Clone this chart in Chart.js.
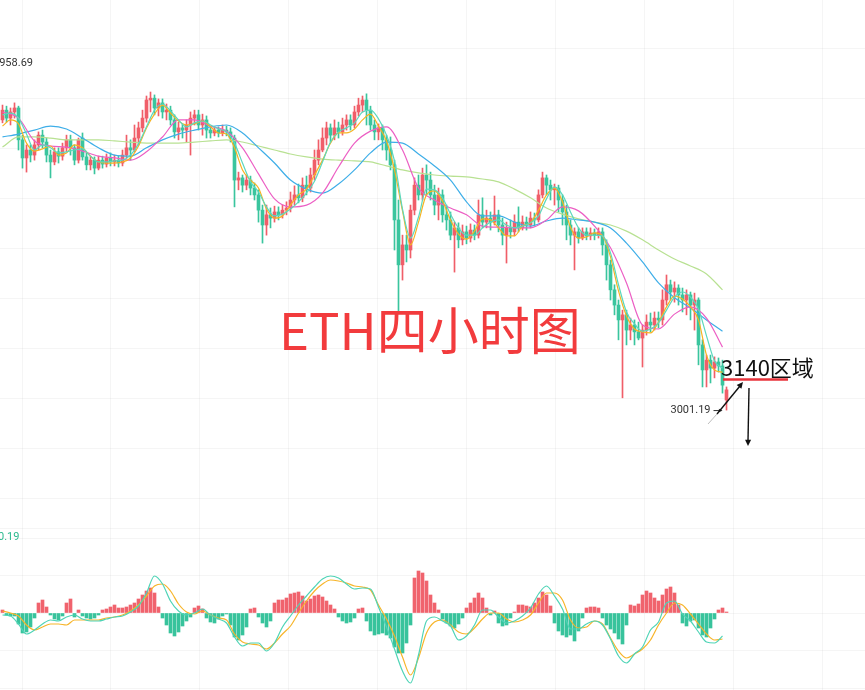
<!DOCTYPE html>
<html>
<head>
<meta charset="utf-8">
<script src="https://cdn.jsdelivr.net/npm/chart.js@4.4.1/dist/chart.umd.min.js"></script>
<style>
  html, body { margin: 0; padding: 0; background: #fff; }
  #wrap { position: relative; width: 865px; height: 690px; overflow: hidden; }
  #main { position: absolute; left: 0; top: 0; }
  #macd { position: absolute; left: 0; top: 528px; }
</style>
</head>
<body>
<div id="wrap">
  <canvas id="main" width="865" height="528"></canvas>
  <canvas id="macd" width="865" height="162"></canvas>
</div>
<script>
// ETH 4h candles (oldest -> newest)
const opens = [
  3802,3829,3807,3824,3835,3747,3697,3719,3705,3733, 3760,3741,3705,3686,3714,3702,3725,3747,3725,3691,
  3752,3700,3678,3691,3669,3691,3680,3697,3686,3691, 3683,3705,3725,3719,3752,3780,3807,3857,3862,3835,
  3849,3824,3829,3802,3769,3780,3774,3788,3807,3816, 3788,3802,3774,3766,3774,3766,3774,3769,3752,3636,
  3642,3622,3636,3614,3595,3553,3512,3540,3531,3548, 3540,3553,3559,3581,3595,3587,3622,3614,3650,3691,
  3719,3752,3780,3760,3780,3769,3788,3802,3788,3824, 3843,3857,3829,3788,3769,3780,3747,3719,3678,3526,
  3402,3457,3443,3553,3622,3595,3650,3636,3595,3567, 3595,3540,3526,3484,3504,3471,3493,3476,3498,3484,
  3540,3520,3531,3520,3540,3512,3484,3504,3493,3520, 3504,3520,3512,3531,3526,3595,3642,3622,3609,3614,
  3581,3548,3512,3484,3493,3476,3493,3482,3490,3484, 3493,3457,3402,3333,3291,3250,3264,3222,3236,3217,
  3200,3222,3244,3236,3255,3250,3305,3347,3327,3338, 3319,3305,3319,3291,3305,3181,3112,3139,3117,3134,
  3123,3029
];
const highs = [
  3843,3840,3835,3849,3840,3760,3733,3733,3747,3769, 3774,3752,3719,3725,3725,3738,3760,3760,3733,3752,
  3766,3711,3702,3700,3702,3702,3708,3711,3705,3702, 3719,3760,3747,3788,3796,3829,3868,3879,3871,3860,
  3860,3846,3840,3816,3796,3791,3802,3824,3829,3829, 3818,3813,3785,3783,3783,3788,3785,3780,3760,3658,
  3650,3650,3647,3628,3609,3567,3567,3559,3564,3562, 3567,3576,3603,3620,3625,3642,3647,3669,3719,3747,
  3780,3796,3791,3802,3796,3807,3816,3816,3840,3862, 3868,3874,3840,3802,3791,3788,3760,3755,3691,3581,
  3484,3484,3567,3642,3650,3669,3678,3658,3622,3614, 3609,3567,3548,3520,3518,3512,3509,3515,3512,3581,
  3587,3553,3548,3592,3553,3531,3520,3526,3540,3562, 3537,3534,3548,3545,3609,3658,3650,3636,3625,3622,
  3595,3567,3526,3504,3504,3504,3504,3504,3501,3504, 3504,3471,3415,3347,3305,3277,3277,3255,3250,3244,
  3236,3264,3269,3272,3272,3333,3374,3360,3355,3347, 3338,3333,3327,3324,3311,3195,3153,3153,3148,3145,
  3139,3065
];
const lows = [
  3794,3796,3788,3807,3719,3669,3658,3686,3691,3719, 3725,3686,3642,3678,3683,3691,3714,3705,3678,3683,
  3691,3664,3664,3653,3664,3669,3672,3675,3675,3672, 3675,3697,3691,3714,3733,3769,3796,3824,3816,3813,
  3807,3802,3788,3752,3747,3752,3741,3705,3788,3774, 3760,3752,3752,3758,3755,3758,3758,3741,3562,3609,
  3603,3609,3595,3581,3520,3462,3484,3504,3520,3526, 3531,3540,3548,3567,3573,3576,3595,3603,3636,3678,
  3714,3733,3741,3747,3752,3760,3774,3774,3780,3813, 3824,3788,3774,3747,3747,3719,3691,3664,3443,3272,
  3360,3410,3421,3540,3581,3581,3595,3581,3540,3526, 3520,3498,3471,3382,3449,3457,3460,3465,3471,3476,
  3504,3504,3498,3512,3493,3457,3407,3476,3482,3493, 3498,3498,3504,3509,3520,3587,3595,3581,3567,3548,
  3512,3471,3457,3388,3462,3471,3471,3471,3471,3476, 3429,3360,3305,3264,3195,3035,3181,3195,3181,3195,
  3120,3208,3217,3222,3228,3236,3291,3305,3299,3291, 3272,3264,3250,3222,3126,3065,3065,3076,3090,3106,
  3048,3001.19
];
const closes = [
  3829,3807,3824,3835,3747,3697,3719,3705,3733,3760, 3741,3705,3686,3714,3702,3725,3747,3725,3691,3747,
  3700,3678,3691,3669,3691,3680,3697,3686,3691,3683, 3705,3725,3719,3752,3780,3807,3857,3862,3835,3849,
  3824,3829,3802,3769,3780,3774,3788,3807,3816,3788, 3802,3774,3766,3774,3766,3774,3769,3752,3636,3642,
  3622,3636,3614,3595,3553,3512,3540,3531,3548,3540, 3553,3559,3581,3595,3587,3622,3614,3650,3691,3719,
  3752,3780,3760,3780,3769,3788,3802,3788,3824,3843, 3857,3829,3788,3769,3780,3747,3719,3678,3526,3402,
  3457,3443,3553,3622,3595,3650,3636,3595,3567,3595, 3540,3526,3484,3504,3471,3493,3476,3498,3484,3540,
  3520,3531,3520,3540,3512,3484,3504,3493,3520,3504, 3520,3512,3531,3526,3595,3642,3622,3609,3614,3581,
  3548,3512,3484,3493,3476,3493,3482,3490,3484,3493, 3457,3402,3333,3291,3250,3264,3222,3236,3217,3200,
  3222,3244,3236,3255,3250,3305,3347,3327,3338,3319, 3305,3319,3291,3305,3181,3112,3139,3117,3134,3123,
  3070,3057
];

// moving averages, fast ones sampled every 2 candles, slow ones every 4
const FINE = 2, COARSE = 4;
const ma5 = [
  3816,3821,3807,3763,3719,3733,3725,3711,3714,3719, 3722,3702,3686,3686,3689,3691,3705,3736,3783,3829,
  3846,3827,3802,3783,3794,3799,3788,3777,3769,3738, 3683,3631,3603,3562,3537,3542,3556,3576,3600,3633,
  3686,3741,3769,3780,3794,3824,3829,3805,3760,3689, 3556,3476,3534,3611,3609,3587,3542,3504,3484,3484,
  3504,3520,3526,3512,3504,3509,3518,3537,3584,3617, 3595,3548,3504,3484,3484,3482,3435,3347,3272,3239,
  3219,3225,3242,3277,3313,3327,3313,3280,3206,3137, 3117
];
const ma10 = [
  3785,3802,3791,3738,3716,3722,3730,3705,3711,3733, 3725,3702,3686,3683,3683,3686,3697,3730,3780,3818,
  3843,3821,3799,3788,3791,3799,3783,3766,3763,3725, 3664,3636,3614,3556,3531,3537,3567,3595,3611,3650,
  3691,3738,3766,3766,3777,3802,3818,3785,3744,3664, 3551,3457,3520,3595,3606,3578,3526,3487,3473,3495,
  3529,3526,3504,3482,3482,3509,3518,3553,3595,3614, 3576,3506,3476,3479,3490,3482,3424,3330,3261,3225,
  3217,3214,3244,3286,3316,3308,3286,3250,3153,3112, 3106
];
const ma20 = [
  3824,3807,3744,3730,3727,3716,3702,3697,3691,3714, 3755,3802,3802,3785,3771,3725,3653,3584,3562,3567,
  3600,3672,3738,3771,3783,3719,3614,3581,3559,3540, 3509,3506,3504,3504,3526,3562,3551,3509,3449,3352,
  3236,3225,3266,3286,3255,3175
];
const ma60 = [
  3755,3763,3774,3785,3777,3752,3725,3705,3702,3725, 3747,3763,3774,3783,3788,3766,3725,3683,3636,3611,
  3600,3625,3664,3711,3741,3738,3708,3675,3636,3576, 3537,3537,3520,3509,3523,3531,3526,3520,3504,3462,
  3410,3352,3311,3283,3250,3219
];
const ma120 = [
  3727,3755,3755,3752,3747,3747,3747,3744,3741,3738, 3738,3738,3741,3744,3747,3741,3730,3719,3708,3700,
  3694,3691,3689,3686,3675,3664,3656,3650,3647,3645, 3639,3631,3611,3587,3559,3542,3529,3520,3512,3495,
  3471,3443,3418,3399,3377,3333
];

// MACD pane
const macdHist = [
  3,-2,-3,-3,-11,-20,-19,-14,-5,10, 13,6,-2,-6,-7,-3,10,14,-4,3,
  -3,-5,-6,-5,-2,3,4,6,8,5, 5,6,8,10,14,18,22,25,20,6,
  -5,-12,-20,-23,-19,-13,-8,-4,5,7, 4,-5,-9,-10,-6,-3,-1,-12,-24,-27,
  -22,-14,4,5,-4,-10,-14,-8,10,13, 13,15,19,20,21,17,12,14,17,18,
  16,12,8,4,-4,-8,-10,-9,-5,4, 5,-8,-18,-22,-21,-20,-22,-25,-34,-40,
  -40,-30,-12,35,42,40,32,18,10,3, -6,-10,-13,-15,-11,-5,5,10,15,20,
  15,5,-2,2,-10,-13,-12,-5,1,8, 8,7,6,10,15,21,18,7,-10,-18,
  -22,-24,-22,-28,-18,-5,5,6,6,5, -5,-12,-16,-20,-26,-31,-12,8,7,9,
  18,22,20,15,12,18,24,26,20,8, -10,-13,-8,-7,-15,-22,-24,-15,-6,3,
  5,1
];
const dif = [
  -2,-3,-11,-21,-17,-11,-7,-8,-4,-2, -6,-8,-8,-6,-4,-3,1,7,20,37,
  29,12,2,-2,0,4,-2,-6,-10,-24, -33,-30,-30,-38,-30,-14,-3,8,17,26,
  34,37,35,29,24,25,24,6,-14,-36, -58,-70,-42,-8,-4,-8,-13,-27,-23,-12,
  3,3,-4,-10,-8,-3,5,19,27,17, 4,-16,-16,-11,-8,-12,-26,-43,-50,-41,
  -34,-17,-9,10,12,-1,-8,-19,-29,-30, -23
];
const dea = [
  2,0,-3,-12,-17,-14,-11,-11,-12,-7, -7,-7,-7,-5,-4,-2,2,8,17,27,
  29,22,9,1,-1,2,-2,-5,-7,-21, -29,-31,-32,-36,-30,-21,-13,0,12,22,
  29,33,32,30,27,26,23,8,-6,-23, -44,-62,-45,-20,-9,-7,-12,-19,-21,-15,
  -6,0,0,-6,-9,-7,-2,10,20,20, 13,-7,-15,-14,-8,-11,-25,-38,-45,-41,
  -36,-27,-12,0,10,8,-1,-11,-21,-27, -26
];

const HIGH_PRICE = 3958.69;   // high of a candle left of the visible window
const MACD_TAG = "0.19";
const TITLE = "ETH四小时图";
const ZONE = "3140区域";

// layout of the crop
const X_MIN = -0.625, X_MAX = 215.625;
const Y_MIN = 2675.7, Y_MAX = 4133;
const X_GRID_START = 4.875, X_GRID_STEP = 22.225, X_GRID_N = 10;
const Y_GRID_TOP = 3997.8, Y_GRID_STEP = 138, Y_GRID_N = 10;
const M_MIN = -77, M_MAX = 85;
const macdGrid = [84.6, 75, 37.5, 0, -37.5, -75];

const RED = "#f05e69", GREEN = "#3ac59e";
const GRID = "rgba(0,0,0,0.038)";

const pts = (arr, step) => arr.map((v, k) => ({ x: k * step, y: v }));
const candleColors = closes.map((c, i) => c >= opens[i] ? RED : GREEN);
const xGrid = Array.from({ length: X_GRID_N }, (_, k) => X_GRID_START + k * X_GRID_STEP);
const yGrid = Array.from({ length: Y_GRID_N }, (_, k) => Y_GRID_TOP - k * Y_GRID_STEP);

function hiddenAxis(min, max, tickVals) {
  return {
    type: "linear", min, max, offset: false,
    grid: { color: GRID, lineWidth: 1, drawTicks: false, offset: false },
    border: { display: false },
    ticks: { display: false },
    afterBuildTicks: s => { s.ticks = tickVals.map(v => ({ value: v })); }
  };
}

function maLine(label, data, step, color) {
  return {
    type: "line", label, data: pts(data, step), borderColor: color, borderWidth: 1.2,
    pointRadius: 0, fill: false, cubicInterpolationMode: "monotone", order: 0
  };
}

function arrowHead(ctx, x1, y1, x2, y2, size) {
  const a = Math.atan2(y2 - y1, x2 - x1);
  ctx.beginPath();
  ctx.moveTo(x2, y2);
  ctx.lineTo(x2 - size * Math.cos(a - 0.45), y2 - size * Math.sin(a - 0.45));
  ctx.lineTo(x2 - size * Math.cos(a + 0.45), y2 - size * Math.sin(a + 0.45));
  ctx.closePath();
  ctx.fill();
}

// price tags + hand-drawn notes
const mainNotes = {
  id: "mainNotes",
  afterDraw(chart) {
    const { ctx, scales: { x, y } } = chart;
    ctx.save();
    ctx.font = '11px Roboto, "Liberation Sans", sans-serif';
    ctx.fillStyle = "#333";
    ctx.textBaseline = "middle";
    ctx.textAlign = "left";
    ctx.fillText(HIGH_PRICE.toFixed(2), -7, y.getPixelForValue(HIGH_PRICE));

    const lowVal = Math.min(...lows);
    const li = lows.indexOf(lowVal);
    const lx = x.getPixelForValue(li), ly = y.getPixelForValue(lowVal);
    ctx.textAlign = "right";
    ctx.fillText(lowVal.toFixed(2), lx - 16, ly);
    ctx.strokeStyle = "#333";
    ctx.fillStyle = "#333";
    ctx.lineWidth = 1;
    ctx.beginPath(); ctx.moveTo(lx - 13, ly + 0.5); ctx.lineTo(lx - 5, ly + 0.5); ctx.stroke();
    arrowHead(ctx, lx - 13, ly + 0.5, lx - 4, ly + 0.5, 4);

    // big title
    ctx.font = '51px "Noto Sans CJK SC", sans-serif';
    ctx.fillStyle = "#f23b3d";
    ctx.textAlign = "left";
    ctx.textBaseline = "alphabetic";
    ctx.fillText(TITLE, 279, 350);

    // 3140 zone note
    ctx.font = '22px "Noto Sans CJK SC", sans-serif';
    ctx.fillStyle = "#111";
    ctx.fillText(ZONE, 721, 376);
    ctx.strokeStyle = "#e8333b";
    ctx.lineWidth = 2.5;
    ctx.beginPath(); ctx.moveTo(723, 379.5); ctx.lineTo(788, 379.5); ctx.stroke();

    ctx.strokeStyle = "#bdbdbd";
    ctx.lineWidth = 1;
    ctx.beginPath(); ctx.moveTo(708, 424); ctx.lineTo(717, 414); ctx.stroke();
    ctx.strokeStyle = "#111";
    ctx.fillStyle = "#111";
    ctx.lineWidth = 1.4;
    ctx.beginPath(); ctx.moveTo(717, 414); ctx.lineTo(740, 386); ctx.stroke();
    arrowHead(ctx, 717, 414, 743, 382, 7);
    ctx.beginPath(); ctx.moveTo(749, 388); ctx.lineTo(748, 441); ctx.stroke();
    arrowHead(ctx, 749, 388, 748, 446, 7);
    ctx.restore();
  }
};

const macdNotes = {
  id: "macdNotes",
  afterDraw(chart) {
    const ctx = chart.ctx;
    ctx.save();
    ctx.font = '11px Roboto, "Liberation Sans", sans-serif';
    ctx.fillStyle = "#2bb98e";
    ctx.textBaseline = "middle";
    ctx.fillText(MACD_TAG, -2, 9);
    ctx.restore();
  }
};

const common = {
  responsive: false,
  animation: false,
  devicePixelRatio: 1,
  layout: { padding: 0 },
  plugins: { legend: { display: false }, tooltip: { enabled: false } }
};

new Chart(document.getElementById("main"), {
  type: "bar",
  data: {
    datasets: [
      maLine("MA5", ma5, FINE, "#5cd8bd"),
      maLine("MA10", ma10, FINE, "#f7b321"),
      maLine("MA20", ma20, COARSE, "#ec5fc4"),
      maLine("MA60", ma60, COARSE, "#3eaee8"),
      maLine("MA120", ma120, COARSE, "#b8e192"),
      {
        label: "body", data: opens.map((o, i) => ({ x: i, y: [o, closes[i]] })),
        backgroundColor: candleColors, barThickness: 3, grouped: false, order: 5
      },
      {
        label: "wick", data: lows.map((l, i) => ({ x: i, y: [l, highs[i]] })),
        backgroundColor: candleColors, barThickness: 1, grouped: false, order: 6
      }
    ]
  },
  options: Object.assign({}, common, {
    scales: {
      x: hiddenAxis(X_MIN, X_MAX, xGrid),
      y: hiddenAxis(Y_MIN, Y_MAX, yGrid)
    }
  }),
  plugins: [mainNotes]
});

new Chart(document.getElementById("macd"), {
  type: "bar",
  data: {
    datasets: [
      {
        type: "line", label: "DIF", data: pts(dif, FINE), borderColor: "#4fd4b6", borderWidth: 1.2,
        pointRadius: 0, fill: false, cubicInterpolationMode: "monotone", order: 0
      },
      {
        type: "line", label: "DEA", data: pts(dea, FINE), borderColor: "#f7b52a", borderWidth: 1.2,
        pointRadius: 0, fill: false, cubicInterpolationMode: "monotone", order: 1
      },
      {
        label: "MACD", data: macdHist.map((v, i) => ({ x: i, y: v })),
        backgroundColor: macdHist.map(v => v >= 0 ? "#f0636d" : "#38c39c"),
        barThickness: 3, grouped: false, order: 5
      }
    ]
  },
  options: Object.assign({}, common, {
    scales: {
      x: hiddenAxis(X_MIN, X_MAX, xGrid),
      y: hiddenAxis(M_MIN, M_MAX, macdGrid)
    }
  }),
  plugins: [macdNotes]
});
</script>
</body>
</html>
